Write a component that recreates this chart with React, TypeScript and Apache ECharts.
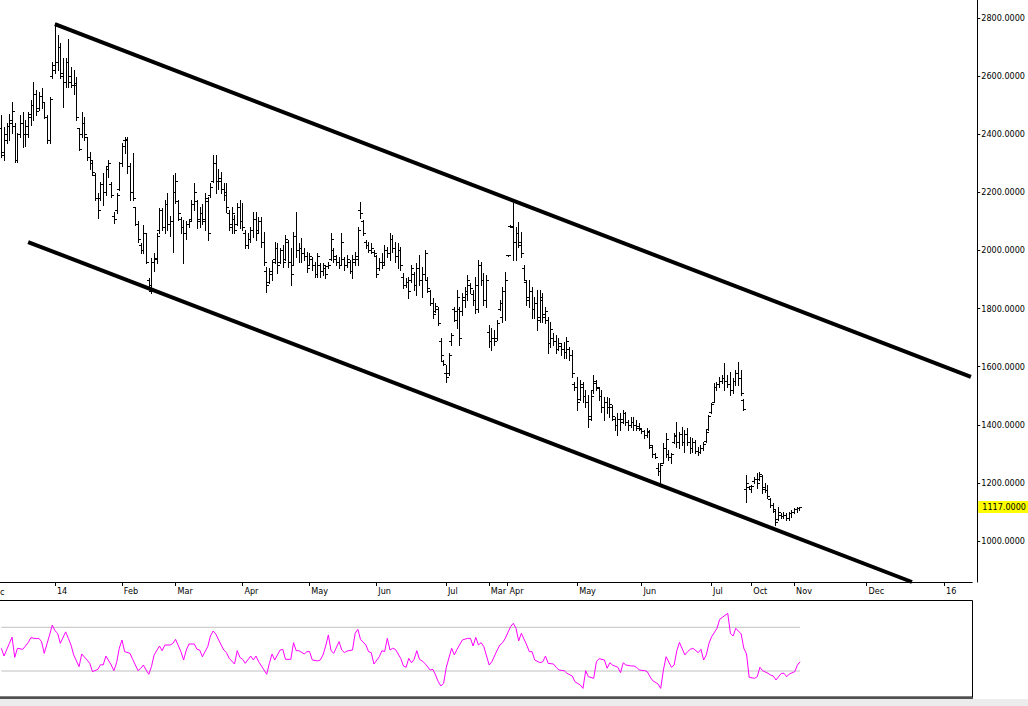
import React, { useEffect, useRef } from "react";
import * as echarts from "echarts";

// ---- data ----
const opens = [
2420,2330,2380,2430,2440,2430,2310,2400,2440,2400,
2400,2460,2500,2540,2490,2530,2510,2460,2380,2600,
2620,2650,2700,2600,2580,2650,2600,2570,2570,2420,
2400,2440,2390,2320,2310,2260,2180,2180,2230,2200,
2290,2230,2120,2140,2210,2300,2380,2380,2290,2200,
2150,2090,2020,2000,2060,1900,1860,1960,1970,2070,
2140,2080,2160,2090,2100,2200,2170,2110,2080,2060,
2090,2110,2160,2170,2100,2130,2100,2170,2190,2240,
2300,2240,2240,2210,2200,2130,
2080,2110,2090,2150,2100,2060,2020,2040,2070,2110,
2070,2100,2030,1930,1890,1920,1970,2010,1960,2000,
1970,2030,1960,1950,2050,2000,2010,1990,1980,1950,
1970,1950,1920,1950,1930,1940,1945,1970,2000,1970,
1960,1950,1970,1950,1960,1930,1960,1970,2140,2100,
2030,2020,2000,1995,1980,1940,1960,1960,2000,1990,
2040,2010,1980,2000,1910,1880,1890,1900,1920,1880,
1940,1900,1920,1900,1860,1820,1790,1800,1690,1620,
1580,1580,1690,1800,1760,1800,1790,1830,1850,1880,
1850,1830,1800,1950,
1900,1830,1720,1690,1700,1700,1800,1770,1860,1984,
2084,2080,2030,2060,2030,1940,1890,1840,1860,1800,
1820,1770,1830,1780,1760,1680,1700,1690,1660,1670,
1660,1650,1660,1640,1540,1530,1490,1530,1500,1480,
1430,1520,1545,1525,1500,1460,1480,1460,1460,1420,
1400,1420,1420,1440,1410,1400,1410,1400,1395,1385,
1378,1365,1375,1325,1300,1250,1240,1270,1320,1300,
1290,1340,1360,1340,1370,1340,1370,1340,1320,1340,
1310,1305,1320,1345,1385,1445,1480,1530,1540,1550,
1560,1550,1540,1520,1550,1580,1560,1485,1180,1185,
1180,1205,1215,1215,1225,1185,1175,1145,1125,1105,
1075,1090,1085,1090,1080,1095,1100,1110,1112
];
const highs = [
2466,2425,2439,2470,2511,2439,2404,2466,2477,2450,
2477,2518,2580,2552,2545,2560,2511,2466,2528,2649,
2783,2740,2714,2662,2662,2728,2631,2620,2597,2421,
2477,2460,2390,2340,2311,2267,2198,2236,2267,2290,
2311,2236,2132,2198,2305,2370,2390,2390,2301,2335,
2150,2100,2026,2088,2060,1905,1974,1990,2060,2146,
2146,2174,2198,2120,2260,2267,2174,2115,2105,2100,
2105,2174,2232,2174,2150,2160,2198,2184,2232,2328,
2328,2280,2270,2232,2232,2139,
2151,2122,2163,2174,2163,2070,2060,2081,2132,2132,
2115,2115,2064,1943,1940,1967,2029,2026,2008,2019,
2053,2036,2008,2064,2132,2026,2043,2008,1995,1991,
1978,1960,1991,1957,1957,1950,1960,2060,2008,1984,
1978,2060,1978,1984,1967,1984,1995,2081,2167,2105,
2036,2029,2026,2002,1984,1974,1991,2019,2012,2060,
2053,2029,2026,2012,1922,1905,1909,1950,1926,1957,
1984,1943,2002,1909,1864,1836,1819,1805,1699,1623,
1606,1647,1716,1805,1864,1805,1854,1874,1916,1888,
1864,1909,1967,1960,
1922,1916,1744,1733,1726,1761,1830,1874,1926,1986,
2086,2165,2081,2098,2064,1950,1898,1898,1874,1840,
1864,1864,1854,1805,1771,1754,1716,1709,1699,1681,
1685,1702,1668,1657,1547,1565,1554,1547,1520,1503,
1520,1572,1554,1530,1520,1496,1496,1492,1468,1427,
1441,1441,1451,1444,1417,1427,1427,1417,1406,1389,
1382,1389,1382,1330,1303,1268,1268,1337,1372,1313,
1303,1372,1410,1375,1392,1382,1389,1358,1355,1348,
1324,1330,1341,1382,1434,1475,1544,1547,1565,1572,
1613,1572,1582,1561,1589,1616,1589,1489,1227,1190,
1193,1220,1234,1238,1227,1200,1193,1148,1131,1107,
1117,1096,1100,1096,1100,1107,1114,1117,1117
];
const lows = [
2322,2311,2370,2380,2404,2305,2305,2390,2356,2360,
2390,2432,2449,2466,2483,2490,2456,2370,2370,2594,
2611,2620,2594,2494,2563,2563,2563,2540,2449,2346,
2390,2380,2311,2280,2260,2174,2112,2174,2156,2190,
2253,2184,2094,2129,2208,2290,2335,2267,2174,2174,
2088,2030,1991,1991,1957,1874,1854,1930,1957,2060,
2070,2060,2070,2050,1995,2163,2105,2060,1957,2040,
2081,2105,2139,2077,2081,2090,2070,2036,2184,2236,
2198,2210,2198,2174,2132,2070,
2059,2060,2088,2077,2070,2008,2008,2029,2046,2036,
2060,2012,1950,1857,1888,1898,1957,1922,1957,1943,
1967,1943,1881,1950,1978,1960,1960,1967,1926,1950,
1933,1909,1909,1909,1916,1905,1940,1967,1960,1950,
1940,1950,1933,1943,1922,1905,1950,1950,2112,2053,
2008,1995,1991,1984,1909,1933,1940,1950,1978,1967,
1995,1960,1940,1933,1871,1874,1837,1891,1864,1847,
1881,1840,1898,1857,1812,1768,1788,1744,1623,1606,
1547,1572,1675,1757,1733,1675,1778,1805,1830,1854,
1812,1785,1788,1880,
1812,1805,1668,1657,1675,1692,1795,1754,1761,1982,
2082,1967,1967,2012,1978,1898,1812,1805,1768,1768,
1726,1754,1754,1750,1647,1668,1675,1647,1657,1640,
1630,1630,1623,1565,1520,1451,1485,1478,1461,1393,
1417,1510,1520,1485,1444,1417,1441,1427,1417,1382,
1365,1382,1406,1399,1382,1392,1382,1382,1382,1372,
1355,1358,1320,1289,1286,1227,1200,1268,1289,1279,
1268,1337,1324,1320,1330,1306,1330,1303,1306,1303,
1296,1303,1313,1341,1382,1441,1479,1520,1530,1544,
1520,1530,1503,1510,1537,1537,1503,1451,1135,1180,
1169,1200,1183,1210,1165,1169,1148,1117,1100,1055,
1072,1079,1079,1072,1072,1083,1096,1100,1107
];
const closes = [
2340,2400,2430,2450,2480,2310,2400,2440,2400,2430,
2470,2500,2540,2480,2530,2510,2460,2380,2520,2640,
2650,2700,2610,2580,2650,2580,2570,2575,2460,2350,
2440,2400,2320,2300,2270,2180,2140,2230,2200,2280,
2300,2190,2110,2190,2300,2360,2385,2290,2200,2180,
2090,2040,2000,2060,1960,1880,1960,1975,2050,2140,
2080,2160,2090,2100,2200,2240,2130,2080,2060,2090,
2100,2160,2200,2110,2130,2110,2180,2060,2220,2300,
2240,2250,2210,2190,2150,2090,
2130,2070,2150,2100,2080,2020,2040,2070,2110,2060,
2100,2030,1960,1880,1930,1960,2010,1950,2000,1960,
2040,1960,1920,2050,2000,2010,1990,1980,1940,1980,
1950,1920,1980,1930,1950,1920,1950,2040,1980,1960,
1950,2030,1950,1970,1930,1970,1980,2070,2130,2060,
2020,2000,2010,1990,1920,1960,1950,2000,1990,2040,
2010,1980,2000,1950,1880,1890,1860,1940,1880,1940,
1900,1920,1990,1870,1820,1780,1810,1750,1640,1610,
1565,1640,1710,1790,1840,1700,1840,1860,1900,1870,
1830,1880,1950,1900,
1830,1900,1690,1700,1690,1750,1820,1860,1900,1984,
2084,2030,2060,2020,1990,1900,1830,1860,1800,1820,
1760,1840,1770,1790,1680,1730,1690,1660,1680,1660,
1650,1690,1640,1580,1530,1480,1540,1500,1480,1420,
1500,1550,1530,1500,1460,1480,1460,1470,1430,1400,
1420,1410,1440,1410,1400,1410,1400,1390,1390,1380,
1365,1380,1330,1300,1290,1240,1260,1320,1350,1290,
1300,1365,1340,1370,1340,1370,1340,1320,1340,1310,
1305,1320,1335,1375,1430,1470,1530,1540,1550,1560,
1550,1540,1520,1550,1580,1560,1510,1455,1200,1188,
1190,1215,1200,1230,1180,1175,1155,1125,1110,1065,
1100,1085,1090,1080,1095,1100,1110,1115,1117
];

// RSI vertices: [bar index, RSI value]
const rsiPoints = [
[0,50.8],[1,43.7],[3,55.3],[4,61],[5,42.5],[6,50.8],[8,49.8],[9,52.9],[10,55.9],[11,60.5],
[13,59.6],[14,59.9],[15,56.9],[16,46.2],[18,63],[19,72],[20,66.9],[21,64.5],[22,55.3],[24,65.8],
[25,59.9],[26,53.7],[27,44.7],[29,34],[30,45.6],[32,40],[33,37],[34,29.4],[36,31.5],[37,35.8],
[38,35.5],[39,43.7],[41,35.5],[42,30.3],[43,37.6],[44,50.8],[45,58.4],[46,47.7],[48,46.2],[49,40.7],
[50,35.5],[51,30.3],[52,32.4],[53,35.5],[54,30.9],[55,27],[56,34],[57,44.7],[59,52.9],[60,48.6],
[61,53.8],[63,53.8],[64,55.3],[65,59],[67,47.7],[68,40.1],[69,49.2],[70,54.7],[72,54.7],[73,49.8],
[74,49.2],[75,43.1],[77,52.3],[78,62],[79,66.6],[80,63.9],[82,53.8],[83,49.2],[84,46.8],[85,41.6],
[87,36.4],[88,48.6],[89,42.5],[90,40.7],[91,37],[93,43.7],[94,40.1],[95,43.7],[96,38.5],[98,30.9],
[99,27],[100,37],[101,45.6],[102,40.1],[104,49.2],[105,49.8],[106,40.7],[108,40.7],[109,55.9],[110,48.6],
[111,48.6],[113,45.6],[114,47.7],[115,47.7],[116,40.1],[118,39.2],[119,40.1],[120,44.7],[121,52.9],[122,63],
[123,48.6],[124,46.2],[126,56.9],[127,49.2],[128,46.8],[129,48.3],[131,49.2],[132,64.5],[133,68.1],[134,59],
[136,53.8],[137,47.7],[138,46.8],[139,36.4],[141,43.1],[142,48.6],[143,47.7],[144,59.9],[145,49.2],[146,50.8],
[147,49.8],[149,41.6],[150,34.6],[151,33.4],[152,41.6],[153,37.6],[154,40.7],[155,48.6],[156,40.7],[157,39.2],
[158,37],[160,30.9],[161,31.5],[162,26.3],[163,20.2],[164,16.3],[165,18.7],[166,33.4],[168,50.8],[169,44.7],
[170,49.8],[172,58.4],[174,59.9],[175,59.9],[176,52.9],[177,60.8],[178,53.8],[179,56],[180,52.3],[182,35.5],
[183,38.5],[185,49.2],[186,53.8],[187,55.9],[188,59.9],[190,70.6],[191,73.6],[192,69.1],[193,57.5],[194,64.5],
[196,53.8],[197,47.7],[198,47.7],[199,40.1],[201,37.6],[202,38.5],[203,43.7],[204,37],[206,36.4],[207,33.4],
[208,30.9],[210,30.3],[211,27.9],[213,25.4],[214,20.2],[216,17.2],[217,14.1],[218,30.3],[219,24.8],[221,23.3],
[222,38.5],[223,41.3],[225,40.1],[226,32.5],[227,37.6],[228,35.5],[230,33.4],[231,28.5],[232,37.6],[233,35.5],
[235,34.6],[236,34.6],[237,33.4],[238,30.9],[240,30.3],[241,29.4],[242,24.8],[243,21.2],[245,18.1],[246,14.1],
[247,30.9],[248,43.1],[250,33.4],[251,35.5],[252,48.6],[253,56.2],[255,44.7],[256,47.7],[257,49.8],[258,50.8],
[260,46.8],[261,49.8],[262,40.1],[263,44.7],[264,55.3],[265,61.4],[267,69.1],[268,77.3],[269,79.1],[271,82.8],
[272,64.5],[273,62],[274,69.1],[276,63.9],[277,50.8],[278,45.6],[279,24.2],[281,23.3],[282,24.8],[283,33.4],
[284,30.3],[286,27.9],[287,26.3],[288,25.4],[289,21.8],[291,27.9],[292,27.9],[293,24.8],[294,27.3],[296,29.4],
[297,35.5],[298,38.5]
];
const rsiLevels = [70, 30];

const monthTickIndex = [20, 45, 65, 90, 115, 140, 166, 182, 189, 215, 239, 265, 280, 296, 323, 352];
const monthTickLabel = ["14", "Feb", "Mar", "Apr", "May", "Jun", "Jul", "Mar", "Apr", "May", "Jun", "Jul", "Oct", "Nov", "Dec", "16"];
const priceTicks = [1000, 1200, 1400, 1600, 1800, 2000, 2200, 2400, 2600, 2800];
const upperTrend = [[20, 2779], [362, 1565]];
const lowerTrend = [[10, 2029], [340, 859]];
const lastPrice = 1117;
const SLOTS = 363;

const FONT = "'DejaVu Sans Condensed','DejaVu Sans',sans-serif";

export default function App() {
  const ref = useRef<HTMLDivElement | null>(null);
  useEffect(() => {
    document.body.style.margin = "0";
    if (!ref.current) return;
    const chart = echarts.init(ref.current, null, { renderer: "svg" });
    const cats = Array.from({ length: SLOTS }, (_, i) => String(i));
    const tickMap = new Map<number, string>();
    monthTickIndex.forEach((ix, k) => tickMap.set(ix, monthTickLabel[k]));
    const ohlc: number[][] = [];
    opens.forEach((o, i) => {
      if (o != null) ohlc.push([i, o as number, highs[i] as number, lows[i] as number, closes[i] as number]);
    });
    const lastIdx = opens.length - 1;

    const option: any = {
      animation: false,
      textStyle: { fontFamily: FONT, fontSize: 9, color: "#000" },
      grid: [
        { left: 0, top: 0, width: 973, height: 582 },
        { left: 0, top: 594.5, width: 973, height: 109.3 },
      ],
      xAxis: [
        {
          type: "category", gridIndex: 0, data: cats, boundaryGap: true,
          axisLine: { show: true, lineStyle: { color: "#000", width: 1 } },
          axisTick: { show: true, alignWithLabel: true, interval: (i: number) => tickMap.has(i), length: 4, lineStyle: { color: "#000" } },
          axisLabel: {
            show: true, interval: (i: number) => tickMap.has(i),
            formatter: (_v: string, i: number) => tickMap.get(i) ?? "",
            align: "left", margin: 4, padding: [0, 0, 0, 2], fontSize: 9, color: "#000", fontFamily: FONT,
          },
          splitLine: { show: false },
        },
        { type: "category", gridIndex: 1, data: cats, boundaryGap: true, show: false },
      ],
      yAxis: [
        {
          type: "value", gridIndex: 0, position: "right", min: 859, max: 2862, offset: 5,
          axisLine: { show: true, lineStyle: { color: "#000", width: 1 } },
          axisTick: { show: true, customValues: priceTicks, length: 3, lineStyle: { color: "#000" } },
          axisLabel: { show: true, customValues: priceTicks, formatter: (v: number) => v.toFixed(4), margin: 4, fontSize: 9, color: "#000", fontFamily: FONT },
          splitLine: { show: false },
        },
        { type: "value", gridIndex: 1, min: 0, max: 100, show: false, splitLine: { show: false } },
      ],
      graphic: [
        { type: "rect", shape: { x: -0.5, y: 600.5, width: 973, height: 96.5 }, style: { fill: "none", stroke: "#000", lineWidth: 1 }, silent: true },
        { type: "rect", shape: { x: 0, y: 697, width: 973, height: 2 }, style: { fill: "#505050" }, silent: true },
        { type: "rect", shape: { x: 0, y: 699, width: 1028, height: 7 }, style: { fill: "#ececec" }, silent: true },
        { type: "text", x: 0, y: 587, style: { text: "c", font: `9px ${FONT}`, fill: "#000" }, silent: true },
      ],
      series: [
        {
          type: "custom", xAxisIndex: 0, yAxisIndex: 0, data: ohlc, encode: { x: 0, y: [1, 2, 3, 4] }, silent: true, clip: true,
          renderItem: (_p: any, api: any) => {
            const i = api.value(0);
            const top = api.coord([i, api.value(2)]);
            const bot = api.coord([i, api.value(3)]);
            const op = api.coord([i, api.value(1)]);
            const cl = api.coord([i, api.value(4)]);
            const xi = Math.round(top[0]);
            const x = xi + 0.5;
            const st = { stroke: "#000", lineWidth: 1 };
            const yo = Math.round(op[1]) + 0.5;
            const yc = Math.round(cl[1]) + 0.5;
            return {
              type: "group",
              children: [
                { type: "line", shape: { x1: x, y1: Math.round(top[1]), x2: x, y2: Math.round(bot[1]) + 1 }, style: st },
                { type: "line", shape: { x1: xi - 2, y1: yo, x2: x, y2: yo }, style: st },
                { type: "line", shape: { x1: x, y1: yc, x2: xi + 3, y2: yc }, style: st },
              ],
            };
          },
        },
        {
          type: "line", xAxisIndex: 0, yAxisIndex: 0, data: upperTrend, symbol: "none", silent: true,
          lineStyle: { color: "#000", width: 4 },
          markLine: {
            silent: true, symbol: "none", animation: false,
            data: [{ yAxis: lastPrice }],
            lineStyle: { color: "rgba(0,0,0,0)", width: 0 },
            label: {
              show: true, position: "end", formatter: lastPrice.toFixed(4), distance: 6,
              backgroundColor: "#ffff00", color: "#000", fontSize: 9, fontFamily: FONT, padding: [2, 4, 1, 4],
            },
          },
        },
        { type: "line", xAxisIndex: 0, yAxisIndex: 0, data: lowerTrend, symbol: "none", silent: true, lineStyle: { color: "#000", width: 4 } },
        ...rsiLevels.map((lv) => ({
          type: "line", xAxisIndex: 1, yAxisIndex: 1, data: [[0, lv], [lastIdx, lv]], symbol: "none", silent: true,
          lineStyle: { color: "#c0c0c0", width: 1 },
        })),
        {
          type: "line", xAxisIndex: 1, yAxisIndex: 1, data: rsiPoints, symbol: "none", silent: true,
          lineStyle: { color: "#ff00ff", width: 1 },
        },
      ],
    };
    chart.setOption(option);
    return () => chart.dispose();
  }, []);
  return <div ref={ref} style={{ position: "absolute", left: 0, top: 0, width: 1028, height: 706, background: "#fff" }} />;
}
